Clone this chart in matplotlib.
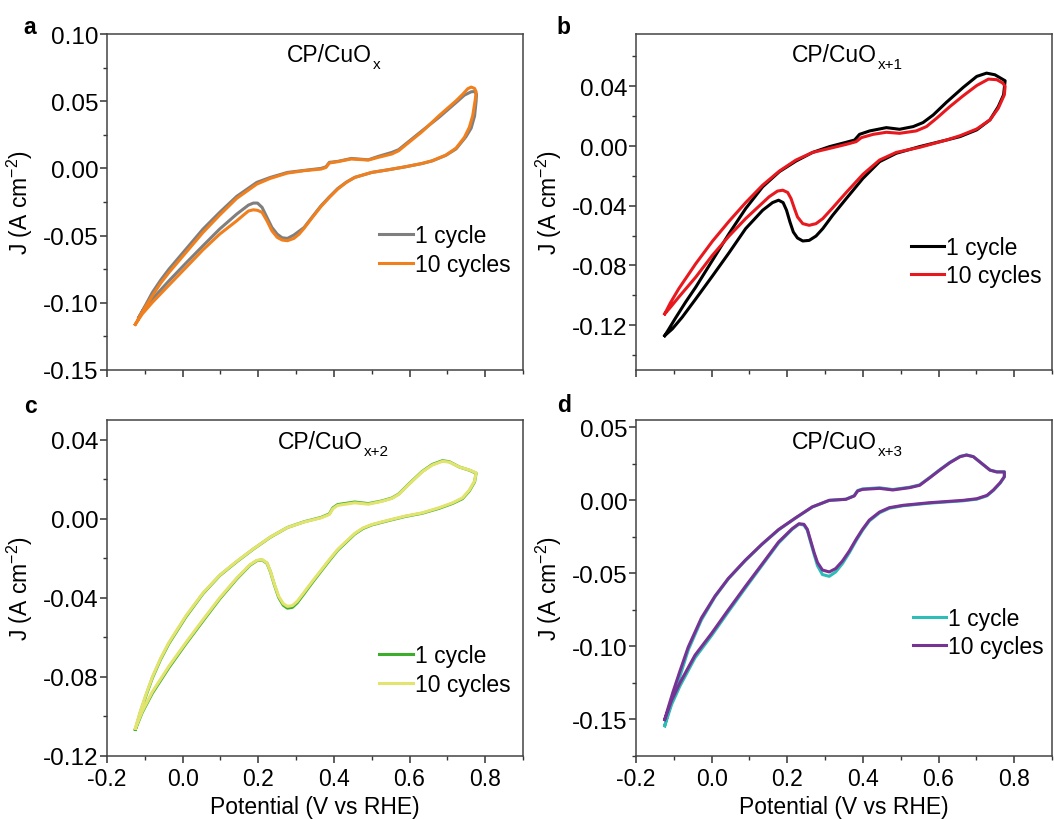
import matplotlib
matplotlib.use("Agg")
import matplotlib.pyplot as plt
from matplotlib.ticker import MultipleLocator, FormatStrFormatter

plt.rcParams['font.family'] = ['Liberation Sans', 'DejaVu Sans']
plt.rcParams['mathtext.default'] = 'regular'
plt.rcParams['axes.unicode_minus'] = False

# ---- data: CV loops, potential E (V vs RHE) and J (A cm-2) ----
# each loop = forward sweep (fwd) followed by reverse sweep (rev)

# panel a, CP/CuOx
a1_fwd_E = [-0.116, -0.098, -0.080, -0.058, -0.036, 0.009, 0.054, 0.098, 0.143, 0.196, 0.232, 0.277, 0.321,
            0.366, 0.379, 0.388, 0.410, 0.446, 0.491, 0.517, 0.553, 0.571, 0.633, 0.678, 0.723, 0.745, 0.763,
            0.772, 0.777]
a1_fwd_J = [-0.1109, -0.1017, -0.0923, -0.0831, -0.0749, -0.060, -0.0451, -0.0327, -0.0208, -0.0104, -0.0067,
            -0.003, -0.0015, 0.0, 0.0012, 0.0045, 0.0052, 0.0074, 0.0064, 0.0089, 0.0119, 0.0139, 0.028, 0.038,
            0.049, 0.0545, 0.057, 0.0572, 0.0553]
a1_rev_E = [0.776, 0.772, 0.763, 0.749, 0.723, 0.696, 0.660, 0.633, 0.589, 0.544, 0.500, 0.455, 0.433, 0.410,
            0.388, 0.366, 0.343, 0.321, 0.294, 0.277, 0.263, 0.250, 0.236, 0.223, 0.210, 0.198, 0.187, 0.174,
            0.143, 0.098, 0.054, 0.009, -0.036, -0.080, -0.103, -0.116]
a1_rev_J = [0.050, 0.039, 0.030, 0.0235, 0.0145, 0.0097, 0.0056, 0.0036, 0.0012, -0.001, -0.003, -0.0067,
            -0.0102, -0.015, -0.0212, -0.0278, -0.036, -0.044, -0.0496, -0.0521, -0.0516, -0.0489, -0.0439,
            -0.0365, -0.029, -0.0258, -0.0258, -0.0273, -0.034, -0.0451, -0.0575, -0.0704, -0.0836, -0.0972,
            -0.1047, -0.1109]
a10_fwd_E = [-0.125, -0.107, -0.080, -0.058, -0.036, 0.009, 0.054, 0.098, 0.143, 0.196, 0.232, 0.277, 0.321,
             0.366, 0.379, 0.388, 0.410, 0.446, 0.491, 0.517, 0.553, 0.571, 0.633, 0.678, 0.723, 0.741, 0.754,
             0.763, 0.772, 0.776]
a10_fwd_J = [-0.116, -0.107, -0.0947, -0.0853, -0.0774, -0.0625, -0.0476, -0.0347, -0.0223, -0.0117, -0.0074,
             -0.0035, -0.0017, -0.0005, 0.0007, 0.004, 0.005, 0.007, 0.0062, 0.0082, 0.0107, 0.0131, 0.0273,
             0.0392, 0.0503, 0.0553, 0.0593, 0.0605, 0.0595, 0.057]
a10_rev_E = [0.774, 0.767, 0.758, 0.745, 0.723, 0.696, 0.660, 0.633, 0.589, 0.544, 0.500, 0.455, 0.433, 0.410,
             0.388, 0.366, 0.343, 0.321, 0.308, 0.294, 0.277, 0.263, 0.250, 0.236, 0.223, 0.210, 0.198, 0.187,
             0.174, 0.161, 0.143, 0.098, 0.054, 0.009, -0.036, -0.080, -0.107, -0.125]
a10_rev_J = [0.0516, 0.0392, 0.0305, 0.0231, 0.0151, 0.0099, 0.0057, 0.0037, 0.0012, -0.001, -0.003, -0.0067,
             -0.0104, -0.0154, -0.0216, -0.0283, -0.0365, -0.0446, -0.0489, -0.0521, -0.0538, -0.0533, -0.0513,
             -0.0464, -0.039, -0.0327, -0.0312, -0.0308, -0.0317, -0.0347, -0.039, -0.0489, -0.0605, -0.0737,
             -0.0868, -0.0997, -0.1084, -0.116]

# panel b, CP/CuOx+1
b1_fwd_E = [-0.124, -0.113, -0.096, -0.069, -0.042, 0.002, 0.046, 0.090, 0.135, 0.179, 0.223, 0.267, 0.312,
            0.356, 0.378, 0.391, 0.418, 0.462, 0.497, 0.533, 0.559, 0.586, 0.621, 0.665, 0.701, 0.727, 0.749,
            0.776]
b1_fwd_J = [-0.127, -0.1225, -0.1154, -0.1046, -0.0945, -0.0766, -0.0587, -0.0419, -0.0273, -0.0172, -0.0101,
            -0.0043, -0.0004, 0.0025, 0.004, 0.0078, 0.0101, 0.0123, 0.0112, 0.013, 0.0157, 0.0208, 0.0293,
            0.0392, 0.0466, 0.0488, 0.0477, 0.0437]
b1_rev_E = [0.772, 0.758, 0.736, 0.701, 0.657, 0.621, 0.550, 0.488, 0.444, 0.400, 0.356, 0.320, 0.294, 0.276,
            0.258, 0.241, 0.227, 0.216, 0.207, 0.198, 0.189, 0.177, 0.161, 0.135, 0.090, 0.046, 0.002, -0.042,
            -0.078, -0.104, -0.124]
b1_rev_J = [0.0343, 0.0264, 0.0175, 0.0108, 0.0063, 0.004, -0.0004, -0.0049, -0.0105, -0.0217, -0.0352,
            -0.0464, -0.0553, -0.0603, -0.0632, -0.0636, -0.0616, -0.0576, -0.0508, -0.043, -0.0379, -0.0363,
            -0.0379, -0.043, -0.0553, -0.0715, -0.0871, -0.1024, -0.1147, -0.1225, -0.127]
b10_fwd_E = [-0.124, -0.109, -0.087, -0.042, 0.002, 0.046, 0.090, 0.135, 0.179, 0.223, 0.267, 0.312, 0.356,
             0.382, 0.396, 0.427, 0.462, 0.497, 0.541, 0.568, 0.595, 0.630, 0.665, 0.701, 0.732, 0.754, 0.770,
             0.776]
b10_fwd_J = [-0.1124, -0.105, -0.0956, -0.0788, -0.0638, -0.0504, -0.0379, -0.0262, -0.0168, -0.0094, -0.0043,
             -0.0016, 0.0011, 0.0029, 0.0056, 0.0078, 0.0092, 0.0085, 0.0101, 0.013, 0.0186, 0.0264, 0.0336,
             0.0405, 0.0448, 0.0444, 0.0421, 0.0399]
b10_rev_E = [0.774, 0.758, 0.736, 0.701, 0.657, 0.621, 0.550, 0.488, 0.444, 0.400, 0.356, 0.320, 0.294, 0.276,
             0.258, 0.241, 0.227, 0.219, 0.210, 0.201, 0.188, 0.174, 0.152, 0.090, 0.046, 0.002, -0.042, -0.087,
             -0.109, -0.124]
b10_rev_J = [0.0343, 0.0253, 0.0175, 0.0114, 0.0069, 0.004, -0.0009, -0.0043, -0.0094, -0.019, -0.0311,
             -0.0414, -0.0486, -0.052, -0.0531, -0.052, -0.0475, -0.0419, -0.0352, -0.0311, -0.0296, -0.0302,
             -0.034, -0.0486, -0.0603, -0.0732, -0.0878, -0.1012, -0.108, -0.1124]

# panel c, CP/CuOx+2
c_fwd_E = [-0.125, -0.112, -0.098, -0.080, -0.058, -0.036, 0.009, 0.054, 0.098, 0.143, 0.187, 0.232, 0.277,
           0.321, 0.366, 0.388, 0.397, 0.410, 0.455, 0.491, 0.526, 0.553, 0.571, 0.598, 0.633, 0.660, 0.687,
           0.705, 0.732, 0.758, 0.776]
c_rev_E = [0.772, 0.758, 0.740, 0.714, 0.678, 0.633, 0.589, 0.544, 0.500, 0.477, 0.455, 0.433, 0.410, 0.388,
           0.366, 0.343, 0.321, 0.303, 0.290, 0.277, 0.266, 0.254, 0.243, 0.232, 0.223, 0.210, 0.196, 0.178,
           0.143, 0.098, 0.054, 0.009, -0.036, -0.080, -0.107, -0.125]
c1_fwd_J = [-0.1065, -0.098, -0.090, -0.0805, -0.071, -0.063, -0.0495, -0.0378, -0.0287, -0.0217, -0.0153,
            -0.0093, -0.0044, -0.0015, 0.0007, 0.0025, 0.0055, 0.0072, 0.0085, 0.0077, 0.009, 0.0105, 0.0125,
            0.0176, 0.0239, 0.0275, 0.0294, 0.0289, 0.0262, 0.0246, 0.0231]
c1_rev_J = [0.0187, 0.0141, 0.0102, 0.0078, 0.0053, 0.0028, 0.0012, -0.0009, -0.0031, -0.0049, -0.0077,
            -0.0117, -0.0159, -0.0211, -0.0265, -0.0322, -0.0379, -0.0425, -0.0448, -0.0452, -0.0437, -0.0398,
            -0.0337, -0.0267, -0.0225, -0.0208, -0.0212, -0.0235, -0.0304, -0.0405, -0.0516, -0.0631, -0.0752,
            -0.0882, -0.098, -0.1065]
c10_fwd_J = [-0.106, -0.0975, -0.0895, -0.080, -0.0705, -0.0625, -0.049, -0.0375, -0.0285, -0.0215, -0.0152,
             -0.0092, -0.0044, -0.0016, 0.0005, 0.0022, 0.0051, 0.0068, 0.0081, 0.0074, 0.0088, 0.0103, 0.0123,
             0.0174, 0.0237, 0.0272, 0.0291, 0.0287, 0.0262, 0.0247, 0.0233]
c10_rev_J = [0.0191, 0.0145, 0.0106, 0.0081, 0.0056, 0.003, 0.0014, -0.0007, -0.0029, -0.0046, -0.0074,
             -0.0113, -0.0155, -0.0206, -0.026, -0.0316, -0.0372, -0.0417, -0.0439, -0.0443, -0.0429, -0.0392,
             -0.0333, -0.0265, -0.0223, -0.0206, -0.021, -0.0232, -0.030, -0.040, -0.051, -0.0625, -0.0745,
             -0.0875, -0.0975, -0.106]

# panel d, CP/CuOx+3
d_fwd_E = [-0.124, -0.115, -0.102, -0.084, -0.062, -0.027, 0.009, 0.044, 0.089, 0.133, 0.177, 0.222, 0.266,
           0.311, 0.355, 0.377, 0.386, 0.399, 0.444, 0.479, 0.524, 0.550, 0.577, 0.603, 0.630, 0.657, 0.674,
           0.692, 0.714, 0.736, 0.754, 0.774]
d_rev_E = [0.774, 0.763, 0.745, 0.728, 0.701, 0.665, 0.577, 0.506, 0.470, 0.444, 0.417, 0.399, 0.382, 0.364,
           0.346, 0.328, 0.311, 0.293, 0.280, 0.271, 0.262, 0.253, 0.244, 0.231, 0.213, 0.177, 0.133, 0.089,
           0.044, 0.0, -0.044, -0.084, -0.106, -0.124]
d1_fwd_J = [-0.1543, -0.1455, -0.1345, -0.1205, -0.1025, -0.0818, -0.0660, -0.0538, -0.0412, -0.0302, -0.0202,
            -0.0121, -0.0046, 0.0, 0.0008, 0.0032, 0.0067, 0.0078, 0.0086, 0.0074, 0.0090, 0.0106, 0.0157,
            0.0209, 0.0260, 0.0301, 0.0311, 0.0299, 0.0253, 0.0207, 0.0196, 0.0196]
d1_rev_J = [0.0160, 0.0118, 0.0068, 0.0031, 0.0008, -0.0003, -0.0019, -0.0037, -0.0054, -0.0085, -0.0141,
            -0.0205, -0.0276, -0.0359, -0.0432, -0.0490, -0.0520, -0.0508, -0.0448, -0.0370, -0.0288, -0.0205,
            -0.0169, -0.0163, -0.0198, -0.0292, -0.0446, -0.0601, -0.0763, -0.0925, -0.1078, -0.1272, -0.1398,
            -0.1543]
d10_fwd_J = [-0.150, -0.142, -0.131, -0.117, -0.1005, -0.0805, -0.0655, -0.0535, -0.041, -0.030, -0.020, -0.012,
             -0.0045, 0.0, 0.0007, 0.003, 0.0064, 0.0075, 0.0082, 0.0071, 0.0087, 0.0103, 0.0155, 0.0207, 0.0258,
             0.0299, 0.031, 0.0299, 0.0253, 0.0207, 0.0194, 0.0194]
d10_rev_J = [0.0162, 0.0121, 0.0071, 0.0034, 0.0011, 0.0, -0.0016, -0.0034, -0.005, -0.008, -0.0135, -0.0198,
             -0.0267, -0.0347, -0.0415, -0.0467, -0.049, -0.0477, -0.0426, -0.0358, -0.0278, -0.0198, -0.0164,
             -0.016, -0.0194, -0.0285, -0.0438, -0.059, -0.075, -0.091, -0.106, -0.125, -0.137, -0.150]

title_main = 'CP/CuO'
title_subs = ['x', 'x+1', 'x+2', 'x+3']
letters = ['a', 'b', 'c', 'd']
legend_labels = ['1 cycle', '10 cycles']

# ---- figure ----
fig = plt.figure(figsize=(10.54, 8.2), dpi=100)
W, H = 1054.0, 820.0
rects = [(107 / W, 449 / H, 416 / W, 336 / H), (636 / W, 449 / H, 416 / W, 336 / H),
         (107 / W, 63 / H, 416 / W, 336 / H), (636 / W, 63 / H, 416 / W, 336 / H)]

panels = [
    dict(s1=(a1_fwd_E + a1_rev_E, a1_fwd_J + a1_rev_J), s10=(a10_fwd_E + a10_rev_E, a10_fwd_J + a10_rev_J),
         c1='#7f7f7f', c10='#f07f1e', ylim=(-0.15, 0.10), major=0.05, minor=0.025,
         title_xy=(0.433, 0.94), leg=(0.655, 0.357)),
    dict(s1=(b1_fwd_E + b1_rev_E, b1_fwd_J + b1_rev_J), s10=(b10_fwd_E + b10_rev_E, b10_fwd_J + b10_rev_J),
         c1='#000000', c10='#e8191e', ylim=(-0.15, 0.075), major=0.04, minor=0.02,
         title_xy=(0.375, 0.94), leg=(0.66, 0.323)),
    dict(s1=(c_fwd_E + c_rev_E, c1_fwd_J + c1_rev_J), s10=(c_fwd_E + c_rev_E, c10_fwd_J + c10_rev_J),
         c1='#3cae2c', c10='#e3e46e', ylim=(-0.12, 0.05), major=0.04, minor=0.02,
         title_xy=(0.411, 0.935), leg=(0.655, 0.256)),
    dict(s1=(d_fwd_E + d_rev_E, d1_fwd_J + d1_rev_J), s10=(d_fwd_E + d_rev_E, d10_fwd_J + d10_rev_J),
         c1='#2dbdb6', c10='#763393', ylim=(-0.175, 0.055), major=0.05, minor=0.025,
         title_xy=(0.375, 0.935), leg=(0.665, 0.3675)),
]
letter_xy = [(0.0285, 0.966), (0.535, 0.967), (0.0285, 0.504), (0.535, 0.506)]

for i, p in enumerate(panels):
    ax = fig.add_axes(rects[i])
    ax.plot(p['s1'][0], p['s1'][1], color=p['c1'], lw=2.2, solid_joinstyle='round', label=legend_labels[0])
    ax.plot(p['s10'][0], p['s10'][1], color=p['c10'], lw=2.2, solid_joinstyle='round', label=legend_labels[1])
    ax.set_xlim(-0.2, 0.9)
    ax.set_ylim(*p['ylim'])
    ax.xaxis.set_major_locator(MultipleLocator(0.2))
    ax.xaxis.set_minor_locator(MultipleLocator(0.1))
    ax.yaxis.set_major_locator(MultipleLocator(p['major']))
    ax.yaxis.set_minor_locator(MultipleLocator(p['minor']))
    ax.xaxis.set_major_formatter(FormatStrFormatter('%.1f'))
    ax.yaxis.set_major_formatter(FormatStrFormatter('%.2f'))
    ax.tick_params(which='both', direction='out', colors='#333333', labelcolor='black')
    ax.tick_params(which='major', length=5, width=1.1)
    ax.tick_params(which='minor', length=3, width=1.0)
    ax.tick_params(axis='y', pad=1, labelsize=17.5)
    ax.tick_params(axis='x', pad=3, labelsize=16.5)
    for sp in ax.spines.values():
        sp.set_color('#444444')
        sp.set_linewidth(1.1)
    if i < 2:
        ax.tick_params(axis='x', labelbottom=False)
    else:
        ax.set_xlabel('Potential (V vs RHE)', fontsize=16.5)
        ax.xaxis.set_label_coords(0.5, -0.116)
    ax.set_ylabel('J (A cm$^{-2}$)', fontsize=16.5)
    ax.yaxis.set_label_coords(-0.173, 0.5)
    t = ax.text(p['title_xy'][0], p['title_xy'][1], title_main, transform=ax.transAxes, fontsize=16.5,
                ha='left', va='center')
    ax.annotate(title_subs[i], xy=(1, 0), xycoords=t, xytext=(0.5, -1.5), textcoords='offset points',
                fontsize=11, ha='left', va='baseline')
    ax.legend(loc='center left', bbox_to_anchor=p['leg'], frameon=False, fontsize=16.5, handlelength=1.45,
              handletextpad=0.1, labelspacing=0.25, borderpad=0, borderaxespad=0)
    fig.text(letter_xy[i][0], letter_xy[i][1], letters[i], fontsize=16.5, fontweight='bold',
             ha='center', va='center')

fig.savefig('out.png', dpi=100)
